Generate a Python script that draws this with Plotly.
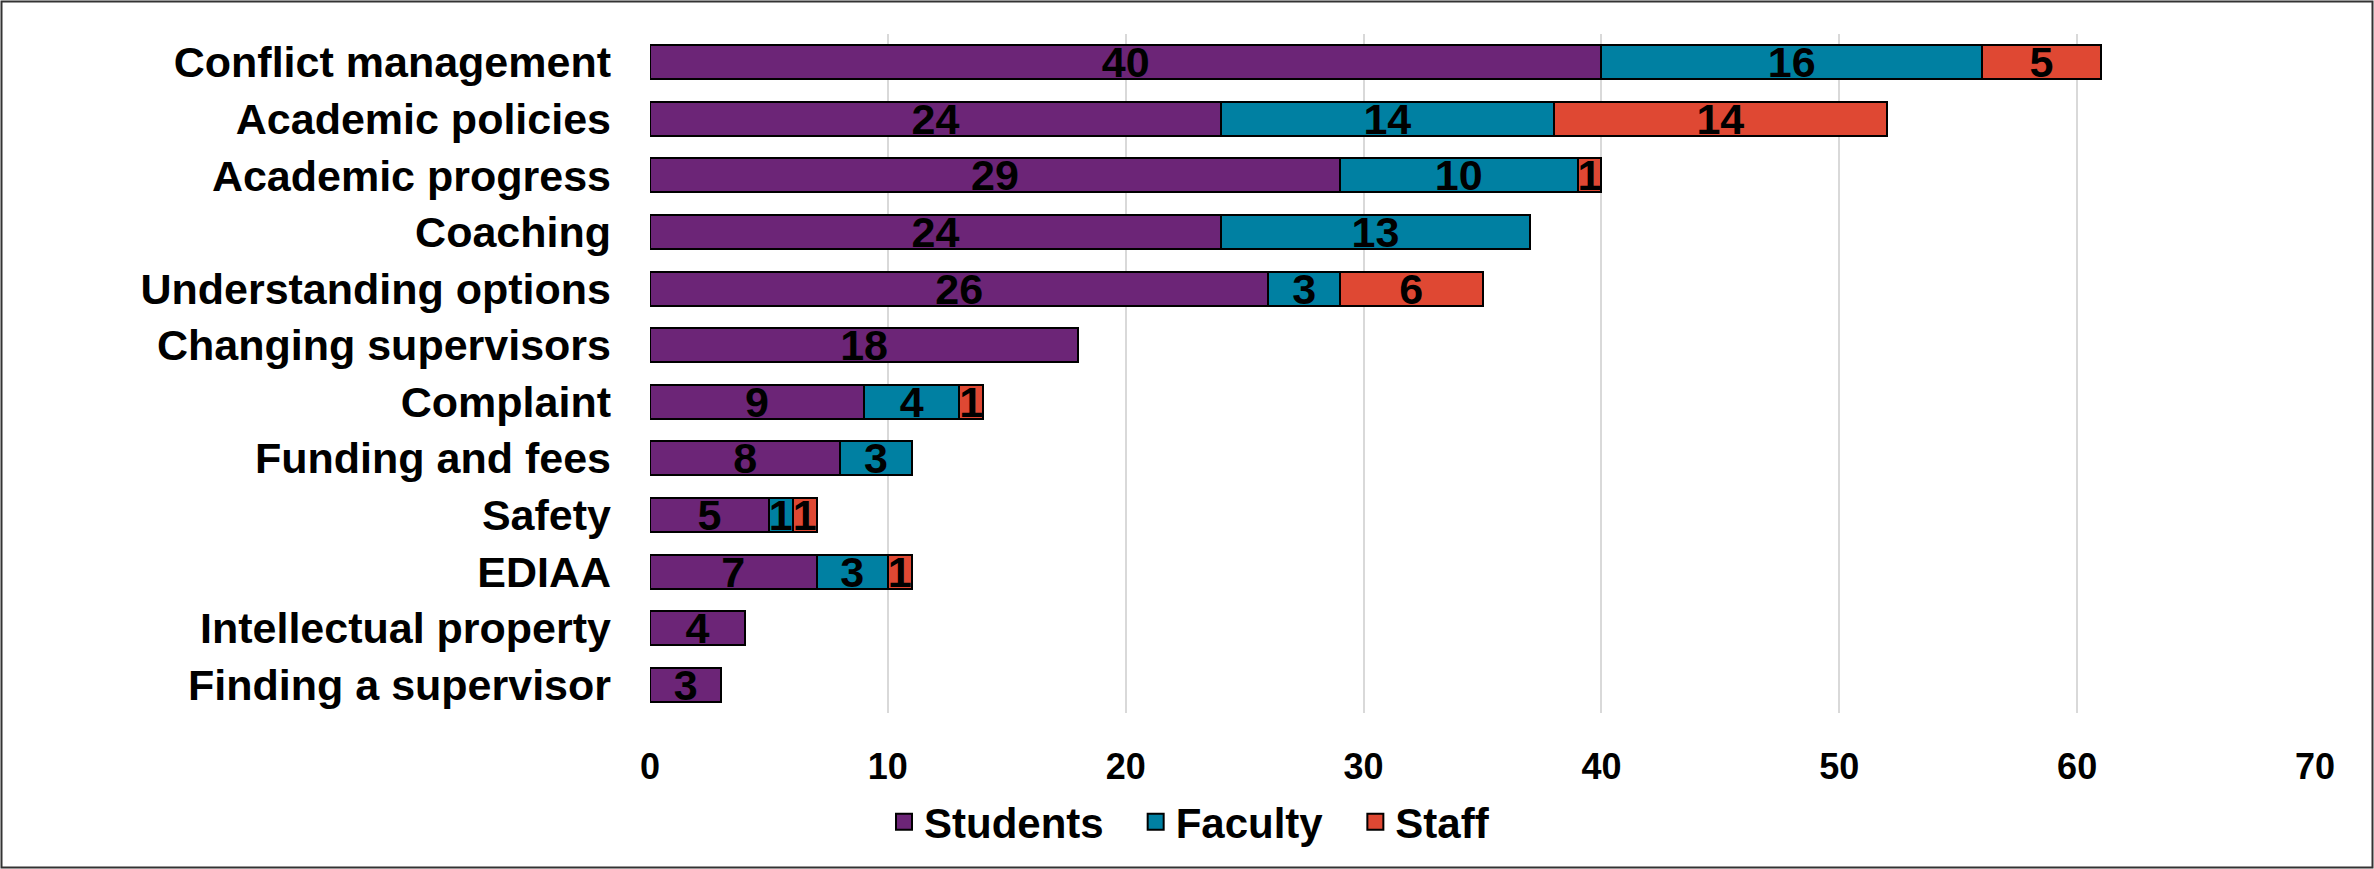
import plotly.graph_objects as go

categories = ["Conflict management", "Academic policies", "Academic progress", "Coaching",
              "Understanding options", "Changing supervisors", "Complaint", "Funding and fees",
              "Safety", "EDIAA", "Intellectual property", "Finding a supervisor"]
students = [40, 24, 29, 24, 26, 18, 9, 8, 5, 7, 4, 3]
faculty = [16, 14, 10, 13, 3, 0, 4, 3, 1, 3, 0, 0]
staff = [5, 14, 1, 0, 6, 0, 1, 0, 1, 1, 0, 0]
series_names = ["Students", "Faculty", "Staff"]
colors = ["#6C2577", "#0080A2", "#DF4833"]
x_ticks = [0, 10, 20, 30, 40, 50, 60, 70]

W, H = 2374, 869
ML, MR, MT, MB = 650, 59, 34, 156
FONT = "Liberation Sans, Arial, sans-serif"

fig = go.Figure()
for name, vals, col in zip(series_names, [students, faculty, staff], colors):
    xs = [v if v else None for v in vals]
    txt = [str(v) if v else "" for v in vals]
    fig.add_trace(go.Bar(
        y=categories, x=xs, name=name, orientation="h",
        marker=dict(color=col, line=dict(color="#000000", width=2)),
        text=txt, textposition="inside", insidetextanchor="middle",
        textangle=0, constraintext="none",
        textfont=dict(family=FONT, size=43, color="#000000", weight="bold"),
        hoverinfo="skip", showlegend=False, legendgroup=name,
    ))
# legend entries (square swatches with black outline)
for name, col in zip(series_names, colors):
    fig.add_trace(go.Scatter(
        x=[None], y=[None], mode="markers", name=name, legendgroup=name,
        marker=dict(symbol="square", size=16, color=col, line=dict(color="#000000", width=2)),
        hoverinfo="skip", showlegend=True,
    ))

pw = W - ML - MR
ph = H - MB - MT
x0 = (1.5 - ML) / pw
x1 = (W - 1.5 - ML) / pw
y1 = (H - MB - 1.5) / ph
y0 = (H - MB - (H - 1.5)) / ph

fig.update_layout(
    width=W, height=H, autosize=False,
    barmode="stack", bargap=0.4,
    margin=dict(l=ML, r=MR, t=MT, b=MB, pad=0, autoexpand=False),
    paper_bgcolor="white", plot_bgcolor="white",
    font=dict(family=FONT, color="#000000", weight="bold"),
    xaxis=dict(range=[0, 70], tickvals=x_ticks, showgrid=True, gridcolor="#D9D9D9", gridwidth=2,
               zeroline=False, showline=False, ticks="",
               tickfont=dict(family=FONT, size=36, color="#000000", weight="bold"),
               ticklabelstandoff=29),
    yaxis=dict(categoryorder="array", categoryarray=categories, autorange="reversed",
               showgrid=False, zeroline=False, showline=False, ticks="",
               tickfont=dict(family=FONT, size=43, color="#000000", weight="bold"),
               ticklabelstandoff=38),
    showlegend=True,
    legend=dict(orientation="h", xref="container", yref="container", x=857 / W, y=0.054,
                xanchor="left", yanchor="middle",
                font=dict(family=FONT, size=42, color="#000000", weight="bold"),
                itemwidth=30, tracegroupgap=0, traceorder="normal", indentation=27),
    shapes=[dict(type="rect", xref="paper", yref="paper", x0=x0, x1=x1, y0=y0, y1=y1,
                 line=dict(color="#333333", width=2), fillcolor="rgba(0,0,0,0)", layer="above")],
)

fig.write_html("out.html")
